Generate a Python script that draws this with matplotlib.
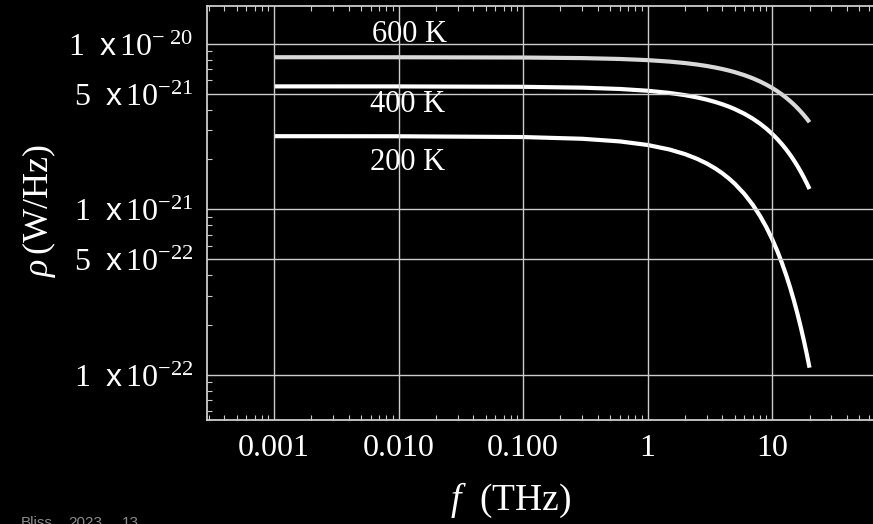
import matplotlib
matplotlib.use("Agg")
import matplotlib.pyplot as plt
from matplotlib.ticker import FixedLocator, LogLocator, NullFormatter

plt.rcParams['mathtext.fontset'] = 'custom'
plt.rcParams['mathtext.rm'] = 'Liberation Serif'
plt.rcParams['mathtext.it'] = 'Liberation Serif:italic'
plt.rcParams['mathtext.sf'] = 'Liberation Sans'

# Frequency (THz)
freq = [0.001, 0.01, 0.1, 0.3, 0.6, 1, 1.5, 2, 2.5, 3, 3.5, 4, 4.5, 5, 6, 7, 8, 9, 10,
        11, 12, 13, 14, 15, 16, 17, 18, 19, 20]

# Power spectral density rho (W/Hz)
rho_200 = [2.762e-21, 2.759e-21, 2.729e-21, 2.664e-21, 2.568e-21, 2.444e-21, 2.295e-21,
           2.152e-21, 2.016e-21, 1.886e-21, 1.763e-21, 1.646e-21, 1.534e-21, 1.429e-21,
           1.235e-21, 1.063e-21, 9.115e-22, 7.782e-22, 6.618e-22, 5.608e-22, 4.735e-22,
           3.985e-22, 3.343e-22, 2.796e-22, 2.333e-22, 1.941e-22, 1.611e-22, 1.334e-22,
           1.102e-22]
rho_400 = [5.524e-21, 5.521e-21, 5.491e-21, 5.425e-21, 5.328e-21, 5.199e-21, 5.042e-21,
           4.888e-21, 4.737e-21, 4.590e-21, 4.445e-21, 4.304e-21, 4.167e-21, 4.032e-21,
           3.773e-21, 3.526e-21, 3.291e-21, 3.069e-21, 2.858e-21, 2.659e-21, 2.471e-21,
           2.294e-21, 2.127e-21, 1.970e-21, 1.823e-21, 1.685e-21, 1.556e-21, 1.436e-21,
           1.324e-21]
rho_600 = [8.286e-21, 8.283e-21, 8.253e-21, 8.187e-21, 8.089e-21, 7.959e-21, 7.799e-21,
           7.641e-21, 7.485e-21, 7.332e-21, 7.180e-21, 7.031e-21, 6.884e-21, 6.740e-21,
           6.457e-21, 6.182e-21, 5.916e-21, 5.659e-21, 5.410e-21, 5.169e-21, 4.937e-21,
           4.712e-21, 4.496e-21, 4.287e-21, 4.086e-21, 3.892e-21, 3.706e-21, 3.527e-21,
           3.355e-21]

curve_labels = ["600 K", "400 K", "200 K"]

xticks = [0.001, 0.01, 0.1, 1, 10]
xticklabels = ["0.001", "0.010", "0.100", "1", "10"]
yticks = [1e-22, 5e-22, 1e-21, 5e-21, 1e-20]
yticklabels = [r"$1\ \ \mathsf{x}\,10^{-22}$", r"$5\ \ \mathsf{x}\,10^{-22}$",
               r"$1\ \ \mathsf{x}\,10^{-21}$", r"$5\ \ \mathsf{x}\,10^{-21}$",
               r"$1\ \ \mathsf{x}\,10^{-\ 20}$"]

W, H = 873, 524
fig = plt.figure(figsize=(W / 100, H / 100), dpi=100, facecolor='black')
left, right, top, bottom = 207, 880, 6, 420
ax = fig.add_axes([left / W, (H - bottom) / H, (right - left) / W, (bottom - top) / H])
ax.set_facecolor('black')
ax.set_xscale('log')
ax.set_yscale('log')
ax.set_xlim(10 ** -3.538, 10 ** 1.867)
ax.set_ylim(10 ** -22.274, 10 ** -19.772)

gridc = '#cccccc'
for xv in xticks:
    ax.axvline(xv, color=gridc, lw=1.0, zorder=5)
for yv in yticks:
    ax.axhline(yv, color=gridc, lw=1.0, zorder=5)

ax.plot(freq, rho_600, color='#d9d9d9', lw=3.0, solid_capstyle='butt', zorder=3)
ax.plot(freq, rho_400, color='white', lw=3.0, solid_capstyle='butt', zorder=3)
ax.plot(freq, rho_200, color='white', lw=3.0, solid_capstyle='butt', zorder=3)

for sp in ax.spines.values():
    sp.set_color(gridc)
    sp.set_linewidth(1.3)

ax.xaxis.set_major_locator(FixedLocator(xticks))
ax.set_xticklabels(xticklabels)
ax.xaxis.set_minor_locator(LogLocator(base=10, subs=range(2, 10), numticks=20))
ax.xaxis.set_minor_formatter(NullFormatter())
ax.yaxis.set_major_locator(FixedLocator(yticks))
ax.set_yticklabels(yticklabels)
ax.yaxis.set_minor_locator(LogLocator(base=10, subs=range(2, 10), numticks=20))
ax.yaxis.set_minor_formatter(NullFormatter())

ax.tick_params(which='both', direction='in', colors=gridc, top=True, right=False,
               labelcolor='white')
ax.tick_params(which='major', length=0)
ax.tick_params(which='minor', length=3.5, width=0.8)
ax.tick_params(axis='x', labelsize=23, pad=10)
ax.tick_params(axis='y', labelsize=23, pad=10)
for lab in ax.get_xticklabels():
    lab.set_fontfamily('Liberation Serif')

# curve labels
lab_pos = [(410, 35), (408, 105), (408, 162)]
for (px, py), t in zip(lab_pos, curve_labels):
    fig.text(px / W, (H - py) / H, t, color='white', fontsize=22,
             family='Liberation Serif', ha='center', va='center', zorder=1)

fig.text(511 / W, (H - 500) / H, r"$\mathit{f}$  (THz)", color='white', fontsize=27,
         family='Liberation Serif', ha='center', va='center')
fig.text(39 / W, (H - 210) / H, r"$\rho\,$(W/Hz)", color='white', fontsize=26,
         family='Liberation Serif', ha='center', va='center', rotation=90)

for px, t in [(21, "Bliss"), (68, "2023"), (122, "13")]:
    fig.text(px / W, (H - 516) / H, t, color='#8a8a8a', fontsize=11,
             family='Liberation Sans', ha='left', va='top')

fig.savefig("out.png", dpi=100, facecolor='black')
